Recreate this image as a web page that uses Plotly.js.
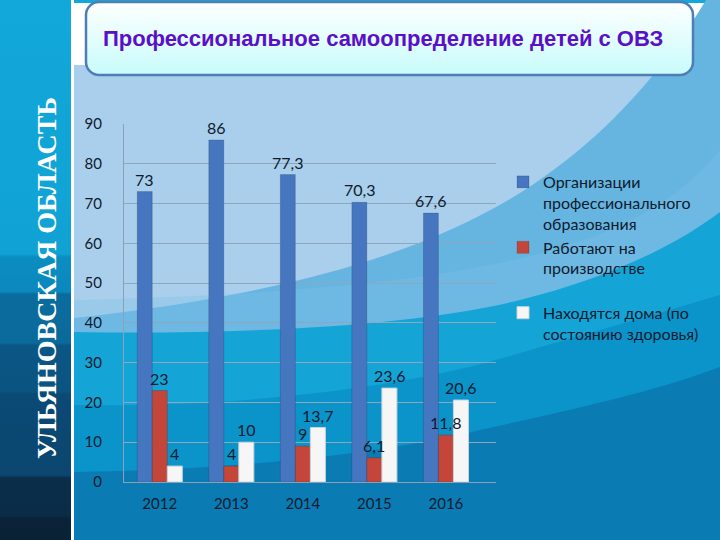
<!DOCTYPE html>
<html>
<head>
<meta charset="utf-8">
<script src="https://cdn.plot.ly/plotly-3.0.1.min.js"></script>
<style>
  html, body { margin: 0; padding: 0; width: 720px; height: 540px; overflow: hidden; }
  #wrap { position: relative; width: 720px; height: 540px; }
  #bg { position: absolute; left: 0; top: 0; }
  #chart { position: absolute; left: 0; top: 0; width: 720px; height: 540px; }
</style>
</head>
<body>
<div id="wrap">
<svg id="bg" width="720" height="540" xmlns="http://www.w3.org/2000/svg">
  <defs>
    <linearGradient id="band" x1="0" y1="0" x2="0" y2="1">
      <stop offset="0" stop-color="#12a8d9"/>
      <stop offset="0.47" stop-color="#10a2d4"/>
      <stop offset="0.476" stop-color="#0b8dc2"/>
      <stop offset="0.54" stop-color="#0b88bd"/>
      <stop offset="0.545" stop-color="#0a6c9e"/>
      <stop offset="0.635" stop-color="#0a6a9b"/>
      <stop offset="0.64" stop-color="#0a5684"/>
      <stop offset="0.725" stop-color="#0a5481"/>
      <stop offset="0.73" stop-color="#0a4a74"/>
      <stop offset="0.88" stop-color="#0a4670"/>
      <stop offset="0.885" stop-color="#0a2e4a"/>
      <stop offset="0.955" stop-color="#0a2c47"/>
      <stop offset="0.96" stop-color="#0a2338"/>
      <stop offset="1" stop-color="#0a2236"/>
    </linearGradient>
    <linearGradient id="box" x1="0" y1="0" x2="0" y2="1">
      <stop offset="0" stop-color="#ffffff"/>
      <stop offset="1" stop-color="#c8fbfb"/>
    </linearGradient>
  </defs>
  <rect x="72" y="0" width="648" height="540" fill="#aacfec"/>
  <rect x="72" y="0" width="648" height="65" fill="#ffffff"/>
  <rect x="72" y="0" width="648" height="3" fill="#12a8d9"/>
  <path d="M706,0 C670,60 620,120 560,165 C470,235 330,290 74,318 L74,540 L720,540 L720,0 Z" fill="#66b5e1"/>
  <path d="M720,150 C640,250 480,290 74,300 L74,540 L720,540 Z" fill="#7fc1e7" opacity="0.35"/>
  <path d="M74,332 C250,335 420,325 520,300 C600,280 670,250 720,212 L720,540 L74,540 Z" fill="#15a4d6"/>
  <path d="M74,405 C250,408 420,385 520,353 C600,330 670,310 720,295 L720,540 L74,540 Z" fill="#0a94ca"/>
  <path d="M74,472 C250,470 400,450 480,430 C580,408 660,390 720,367 L720,540 L74,540 Z" fill="#0a7bb3"/>
  <rect x="0" y="0" width="71" height="540" fill="url(#band)"/>
  <rect x="71" y="0" width="3" height="540" fill="#ffffff"/>
  <rect x="86" y="2" width="607" height="73" rx="13" ry="13" fill="url(#box)" stroke="#4f7db5" stroke-width="2.5"/>
  <text x="0" y="0" transform="translate(56,278) rotate(-90)" text-anchor="middle" font-family="Liberation Serif, DejaVu Serif, serif" font-weight="bold" font-size="28" fill="#ffffff">УЛЬЯНОВСКАЯ ОБЛАСТЬ</text>
</svg>
<div id="chart"></div>
</div>
<script>
const years = ["2012", "2013", "2014", "2015", "2016"];
const seriesNames = [
  "Организации<br>профессионального<br>образования",
  "Работают на<br>производстве<br> ",
  "Находятся дома (по<br>состоянию здоровья)"
];
const orgEdu = [73, 86, 77.3, 70.3, 67.6];
const working = [23, 4, 9, 6.1, 11.8];
const atHome = [4, 10, 13.7, 23.6, 20.6];
const yTicks = [0, 10, 20, 30, 40, 50, 60, 70, 80, 90];
const titleText = "Профессиональное самоопределение детей с ОВЗ";

const colors = ["#4676c0", "#c4463a", "#f6f6f6"];
const values = [orgEdu, working, atHome];

const textFont = { family: "Lato, 'Open Sans', sans-serif", size: 15, color: "#0f1a2e" };
const labelFont = { family: "Lato, 'Open Sans', sans-serif", size: 16, color: "#0f1a2e" };

const traces = values.map((v, i) => ({
  type: "bar",
  name: seriesNames[i],
  legendgroup: "g" + i,
  x: years,
  y: v,
  marker: { color: colors[i], line: { color: i === 2 ? "#c9d3dc" : "rgba(0,0,0,0.15)", width: 1 } },
  textposition: "none",
  hoverinfo: "skip"
}));

// data labels drawn on top of all bars (built from the same arrays);
// category axis positions given by category index
const barShift = [-15, 0, 15];
const fmt = v => String(v).replace(".", ",");
const annotations = [];
values.forEach((v, i) => {
  v.forEach((val, j) => {
    annotations.push({
      x: j, y: val, xref: "x", yref: "y",
      text: fmt(val), showarrow: false,
      xanchor: "center", yanchor: "bottom",
      xshift: barShift[i], yshift: 1,
      font: labelFont
    });
  });
});

const plotL = 124, plotR = 496;
const layout = {
  width: 720,
  height: 540,
  paper_bgcolor: "rgba(0,0,0,0)",
  plot_bgcolor: "rgba(0,0,0,0)",
  separators: ", ",
  margin: { l: plotL, r: 720 - plotR, t: 124, b: 58, pad: 0, autoexpand: false },
  title: {
    text: titleText,
    x: 103 / 720,
    xanchor: "left",
    xref: "container",
    y: 1 - 38 / 540,
    yanchor: "middle",
    yref: "container",
    font: { family: "Liberation Sans, Arial, sans-serif", size: 22, color: "#5a0fc8", weight: "bold" }
  },
  barmode: "group",
  bargap: 0.37,
  bargroupgap: 0,
  xaxis: {
    type: "category",
    range: [-0.5, 4.7],
    tickfont: textFont,
    showgrid: false,
    showline: true,
    linecolor: "#8aa2b8",
    linewidth: 1,
    ticks: "",
    ticklabelstandoff: 8
  },
  yaxis: {
    range: [0, 90],
    tickvals: yTicks,
    tickfont: textFont,
    showgrid: true,
    gridcolor: "#8fa7bb",
    gridwidth: 1,
    zeroline: false,
    showline: true,
    linecolor: "#8aa2b8",
    ticks: "",
    ticklabelstandoff: 18
  },
  legend: {
    x: (503 - plotL) / (plotR - plotL),
    xanchor: "left",
    y: (482 - 165) / 358,
    yanchor: "top",
    valign: "top",
    font: labelFont,
    bgcolor: "rgba(0,0,0,0)",
    tracegroupgap: 10,
    itemwidth: 30,
    traceorder: "normal"
  },
  annotations: annotations,
  showlegend: true
};

Plotly.newPlot("chart", traces, layout, { staticPlot: true, displayModeBar: false });
</script>
</body>
</html>
